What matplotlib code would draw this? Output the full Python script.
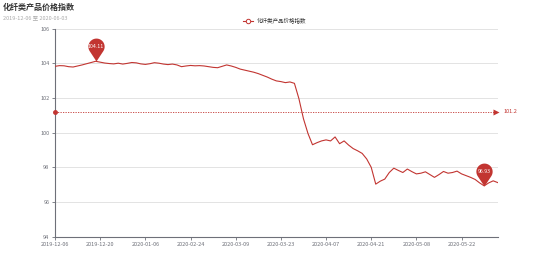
import matplotlib
matplotlib.use('Agg')
import matplotlib.pyplot as plt
import numpy as np
from matplotlib.path import Path

plt.rcParams['font.family'] = ['Noto Sans CJK SC', 'DejaVu Sans']

title = '化纤类产品价格指数'
subtitle = '2019-12-06 至 2020-06-03'
series_name = '化纤类产品价格指数'

dates = [
    '2019-12-06', '2019-12-09', '2019-12-10', '2019-12-11', '2019-12-12',
    '2019-12-13', '2019-12-16', '2019-12-17', '2019-12-18', '2019-12-19',
    '2019-12-20', '2019-12-23', '2019-12-24', '2019-12-25', '2019-12-26',
    '2019-12-27', '2019-12-30', '2019-12-31', '2020-01-02', '2020-01-03',
    '2020-01-06', '2020-01-07', '2020-01-08', '2020-01-09', '2020-01-10',
    '2020-01-13', '2020-01-14', '2020-01-15', '2020-01-16', '2020-01-17',
    '2020-02-24', '2020-02-25', '2020-02-26', '2020-02-27', '2020-02-28',
    '2020-03-02', '2020-03-03', '2020-03-04', '2020-03-05', '2020-03-06',
    '2020-03-09', '2020-03-10', '2020-03-11', '2020-03-12', '2020-03-13',
    '2020-03-16', '2020-03-17', '2020-03-18', '2020-03-19', '2020-03-20',
    '2020-03-23', '2020-03-24', '2020-03-25', '2020-03-26', '2020-03-27',
    '2020-03-30', '2020-03-31', '2020-04-01', '2020-04-02', '2020-04-03',
    '2020-04-07', '2020-04-08', '2020-04-09', '2020-04-10', '2020-04-13',
    '2020-04-14', '2020-04-15', '2020-04-16', '2020-04-17', '2020-04-20',
    '2020-04-21', '2020-04-22', '2020-04-23', '2020-04-24', '2020-04-27',
    '2020-04-28', '2020-04-29', '2020-04-30', '2020-05-06', '2020-05-07',
    '2020-05-08', '2020-05-11', '2020-05-12', '2020-05-13', '2020-05-14',
    '2020-05-15', '2020-05-18', '2020-05-19', '2020-05-20', '2020-05-21',
    '2020-05-22', '2020-05-25', '2020-05-26', '2020-05-27', '2020-05-28',
    '2020-05-29', '2020-06-01', '2020-06-02', '2020-06-03',
]

values = [
    103.82, 103.86, 103.85, 103.80, 103.78, 103.84, 103.90, 103.97, 104.04, 104.11,
    104.06, 104.01, 103.98, 103.96, 104.00, 103.95, 103.99, 104.04, 104.02, 103.96,
    103.93, 103.97, 104.03, 104.00, 103.95, 103.92, 103.95, 103.90, 103.80, 103.84,
    103.87, 103.85, 103.86, 103.84, 103.80, 103.76, 103.74, 103.82, 103.90, 103.84,
    103.76, 103.66, 103.60, 103.54, 103.48, 103.40, 103.30, 103.20, 103.08, 102.98,
    102.94, 102.88, 102.92, 102.84, 101.95, 100.80, 99.95, 99.30, 99.42, 99.52,
    99.58, 99.52, 99.75, 99.36, 99.52, 99.28, 99.08, 98.95, 98.80, 98.48,
    98.00, 97.03, 97.20, 97.32, 97.70, 97.95, 97.82, 97.70, 97.90, 97.75,
    97.62, 97.66, 97.74, 97.58, 97.42, 97.58, 97.76, 97.66, 97.70, 97.78,
    97.62, 97.52, 97.42, 97.30, 97.10, 96.93, 97.10, 97.22, 97.12,
]

avg_value = 101.2
y_ticks = [94, 96, 98, 100, 102, 104, 106]
label_every = 10

red = '#c23531'
axis_col = '#6E7079'
grid_col = '#e3e3e3'

fig = plt.figure(figsize=(5.54, 2.65), dpi=100)
ax = fig.add_axes([55 / 554, 1 - 236.7 / 265, (497.7 - 55) / 554, (236.7 - 28.5) / 265])

x = np.arange(len(values))
ax.plot(x, values, color=red, lw=0.8, zorder=3)

ax.set_xlim(0, len(values) - 1)
ax.set_ylim(y_ticks[0], y_ticks[-1])
ax.set_yticks(y_ticks)
ax.set_xticks(x[::label_every])
ax.set_xticklabels(dates[::label_every])

for s in ['top', 'right']:
    ax.spines[s].set_visible(False)
for s in ['left', 'bottom']:
    ax.spines[s].set_color(axis_col)
    ax.spines[s].set_linewidth(0.8)
ax.tick_params(axis='both', colors=axis_col, labelsize=4, length=2.5, width=0.6, pad=1.5)
ax.grid(axis='y', color=grid_col, lw=0.7)
ax.set_axisbelow(True)

# average mark line
ax.plot([0, len(values) - 1.6], [avg_value, avg_value], color=red, lw=0.6,
        ls=(0, (1.5, 1.5)), zorder=2)
ax.plot([0], [avg_value], 'o', color=red, ms=2.5, clip_on=False, zorder=4)
ax.plot([len(values) - 1.3], [avg_value], marker='>', color=red, ms=4,
        clip_on=False, zorder=4, mec='none')
ax.annotate(f'{avg_value}', (len(values) - 1, avg_value), xytext=(4, 0),
            textcoords='offset points', color=red, fontsize=4, va='center',
            annotation_clip=False)

# pin markers for max / min
ang = np.linspace(np.deg2rad(-33.4), np.deg2rad(213.4), 40)
r = 0.55
verts = [(0, 0)] + [(r * np.cos(a), 1 + r * np.sin(a)) for a in ang] + [(0, 0)]
pin = Path(verts)

vals = np.array(values)
for idx in [int(vals.argmax()), int(vals.argmin())]:
    ax.plot([idx], [values[idx]], marker=pin, ms=33, color=red, mec='none',
            zorder=5, clip_on=False)
    ax.annotate(f'{values[idx]:.2f}', (idx, values[idx]), xytext=(0, 10.6),
                textcoords='offset points', ha='center', va='center',
                color='white', fontsize=3.8, zorder=6)

# title, subtitle, legend
fig.text(3 / 554, 1 - 7 / 265, title, fontsize=5.8, fontweight='bold',
         color='#333333', va='center', ha='left')
fig.text(3 / 554, 1 - 17.5 / 265, subtitle, fontsize=4, color='#aaaaaa',
         va='center', ha='left')
leg_y = 1 - 20.5 / 265
fig.lines.append(plt.Line2D([243.3 / 554, 253.3 / 554], [leg_y, leg_y],
                            transform=fig.transFigure, color=red, lw=0.8))
fig.lines.append(plt.Line2D([248.3 / 554], [leg_y], transform=fig.transFigure,
                            marker='o', ms=3.2, mfc='white', mec=red, mew=0.7))
fig.text(257 / 554, leg_y, series_name, fontsize=4, color='#333333',
         va='center', ha='left')

fig.savefig('out.png', dpi=100)
